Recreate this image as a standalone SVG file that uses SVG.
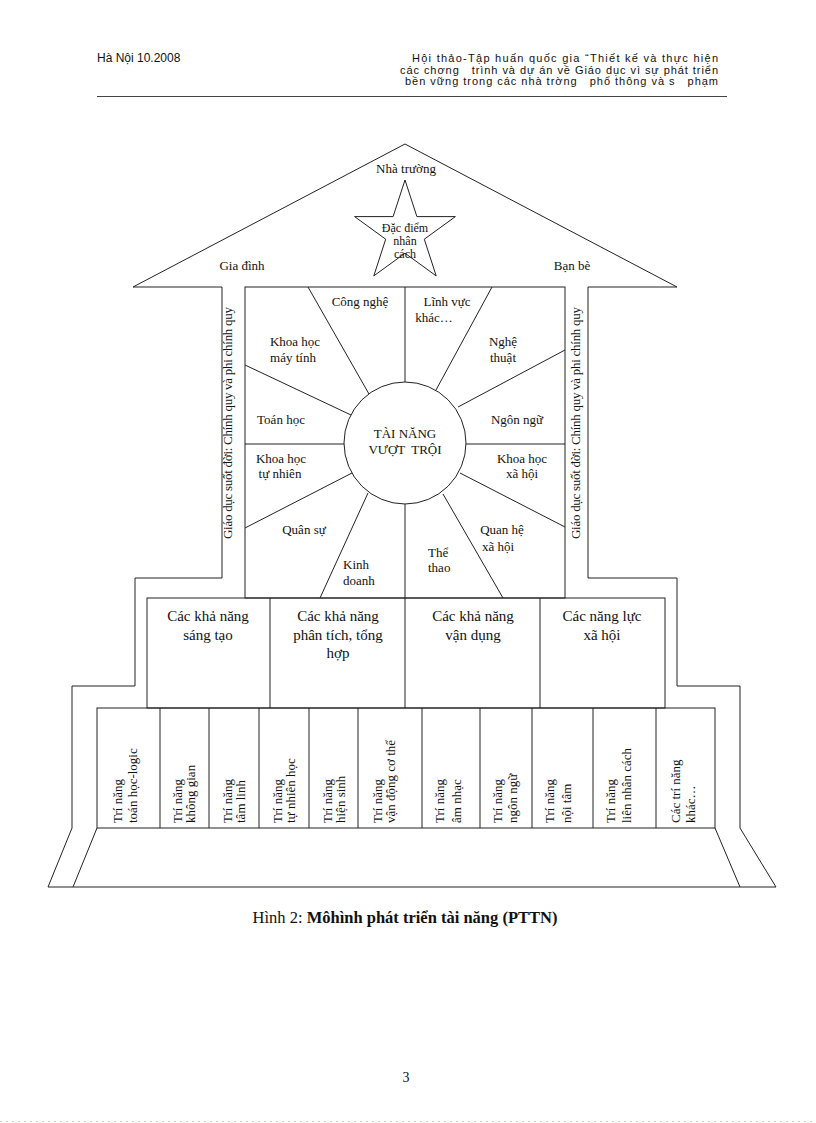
<svg xmlns="http://www.w3.org/2000/svg" width="816" height="1123" viewBox="0 0 816 1123">
<style>
.ln{fill:none;stroke:#222;stroke-width:1}
.hd{font-family:"Liberation Sans",Arial,sans-serif;font-size:11px;fill:#111;white-space:pre}
.t{font-family:"Liberation Serif","Times New Roman",serif;font-size:13px;fill:#111}
.c{text-anchor:middle}
.m{font-family:"Liberation Serif","Times New Roman",serif;font-size:15px;fill:#111;text-anchor:middle}
.s{font-family:"Liberation Serif","Times New Roman",serif;font-size:12px;fill:#111;text-anchor:middle}
.v{font-family:"Liberation Serif","Times New Roman",serif;font-size:13px;fill:#111}
</style>
<rect width="816" height="1123" fill="#fff"/>
<g id="header">
<text class="hd" x="97" y="62" style="font-size:12px">Hà Nội 10.2008</text>
<text class="hd" x="412" y="62" textLength="306" lengthAdjust="spacing">Hội thảo-Tập huấn quốc gia “Thiết kế và thực hiện</text>
<text class="hd" x="400" y="73.5" textLength="318" lengthAdjust="spacing">các chơng   trình và dự án về Giáo dục vì sự phát triển</text>
<text class="hd" x="405" y="85" textLength="313" lengthAdjust="spacing">bền vững trong các nhà trờng   phổ thông và s   phạm</text>
<line x1="97" y1="96.5" x2="727" y2="96.5" stroke="#444" stroke-width="1"/>
</g>
<g id="house">
<path class="ln" d="M133,287 L405,144 L677,287 L588,287 L588,578 L677,578 L677,686 L740,686 L740,828 L776,887 L48,887 L72,828 L72,686 L135,686 L135,578 L222,578 L222,287 Z"/>
<path class="ln" d="M97,828 L73,887 M715,828 L740,887"/>
</g>
<g id="roof-labels">
<text class="t c" x="406" y="173">Nhà trường</text>
<text class="t c" x="242" y="270">Gia  đình</text>
<text class="t c" x="572" y="270">Bạn bè</text>
</g>
<g id="star">
<polygon class="ln" points="405,180 416.9,216.6 455.4,216.6 424.3,239.2 436.2,275.9 405,253.2 373.8,275.9 385.7,239.2 354.6,216.6 393.1,216.6"/>
<text class="s" x="405" y="232">Đặc điểm</text>
<text class="s" x="405" y="245">nhân</text>
<text class="s" x="405" y="258">cách</text>
</g>
<g id="band-left">
<text class="v" transform="translate(232,539) rotate(-90)" textLength="232" lengthAdjust="spacing">Giáo dục suốt đời: Chính quy và phi chính quy</text>
</g>
<g id="band-right">
<text class="v" transform="translate(580,539) rotate(-90)" textLength="232" lengthAdjust="spacing">Giáo dục suốt đời: Chính quy và phi chính quy</text>
</g>
<g id="wheel">
<rect class="ln" x="245" y="287" width="320" height="311"/>
<circle class="ln" cx="405" cy="443" r="61"/>
<text class="t c" x="405" y="438">TÀI NĂNG</text>
<text class="t c" x="405" y="454" style="white-space:pre">VƯỢT  TRỘI</text>
</g>
<g id="connectors">
<line class="ln" x1="308" y1="287" x2="369" y2="394"/>
<line class="ln" x1="405" y1="287" x2="405" y2="382"/>
<line class="ln" x1="492" y1="287" x2="436" y2="390"/>
<line class="ln" x1="565" y1="350" x2="458" y2="407"/>
<line class="ln" x1="245" y1="365" x2="351" y2="415"/>
<line class="ln" x1="245" y1="444" x2="344" y2="444"/>
<line class="ln" x1="466" y1="444" x2="565" y2="444"/>
<line class="ln" x1="245" y1="528" x2="352" y2="473"/>
<line class="ln" x1="320" y1="598" x2="368" y2="493"/>
<line class="ln" x1="405" y1="504" x2="405" y2="598"/>
<line class="ln" x1="503" y1="598" x2="443" y2="494"/>
<line class="ln" x1="565" y1="527" x2="460" y2="473"/>
</g>
<g id="wheel-labels">
<text class="t c" x="360" y="306">Công nghệ</text>
<text class="t c" x="447" y="306">Lĩnh vực</text>
<text class="t c" x="434" y="322">khác…</text>
<text class="t c" x="295" y="346">Khoa học</text>
<text class="t c" x="293" y="362">máy tính</text>
<text class="t c" x="503" y="346">Nghệ</text>
<text class="t c" x="503" y="362">thuật</text>
<text class="t c" x="281" y="424">Toán học</text>
<text class="t c" x="517" y="424">Ngôn ngữ</text>
<text class="t c" x="281" y="463">Khoa học</text>
<text class="t c" x="280" y="478">tự nhiên</text>
<text class="t c" x="522" y="463">Khoa học</text>
<text class="t c" x="522" y="478">xã  hội</text>
<text class="t c" x="304" y="534">Quân sự</text>
<text class="t c" x="502" y="534">Quan hệ</text>
<text class="t c" x="498" y="551">xã hội</text>
<text class="t" x="343" y="569">Kinh</text>
<text class="t" x="343" y="585">doanh</text>
<text class="t" x="428" y="557">Thể</text>
<text class="t" x="428" y="572">thao</text>
</g>
<g id="middle-row">
<rect class="ln" x="147" y="598" width="518" height="110"/>
<line class="ln" x1="270" y1="598" x2="270" y2="708"/>
<line class="ln" x1="405" y1="598" x2="405" y2="708"/>
<line class="ln" x1="540" y1="598" x2="540" y2="708"/>
<text class="m" x="208" y="621">Các khả năng</text>
<text class="m" x="208" y="640">sáng tạo</text>
<text class="m" x="338" y="621">Các khả năng</text>
<text class="m" x="338" y="640">phân tích, tổng</text>
<text class="m" x="338" y="658">hợp</text>
<text class="m" x="473" y="621">Các khả năng</text>
<text class="m" x="473" y="640">vận dụng</text>
<text class="m" x="602" y="621">Các năng lực</text>
<text class="m" x="602" y="640">xã hội</text>
</g>
<g id="columns">
<rect class="ln" x="97" y="708" width="618" height="120"/>
<path class="ln" d="M160,708V828M209,708V828M259,708V828M309,708V828M358,708V828M422,708V828M480,708V828M532,708V828M593,708V828M656,708V828"/>
<text class="v" transform="translate(122,823) rotate(-90)">Trí năng</text>
<text class="v" transform="translate(137,823) rotate(-90)">toán học-logic</text>
<text class="v" transform="translate(182,823) rotate(-90)">Trí năng</text>
<text class="v" transform="translate(195,823) rotate(-90)">không gian</text>
<text class="v" transform="translate(232,823) rotate(-90)">Trí năng</text>
<text class="v" transform="translate(245,823) rotate(-90)">tâm linh</text>
<text class="v" transform="translate(282,823) rotate(-90)">Trí năng</text>
<text class="v" transform="translate(295,823) rotate(-90)">tự nhiên học</text>
<text class="v" transform="translate(332,823) rotate(-90)">Trí năng</text>
<text class="v" transform="translate(345,823) rotate(-90)">hiện sinh</text>
<text class="v" transform="translate(382,823) rotate(-90)">Trí năng</text>
<text class="v" transform="translate(395,823) rotate(-90)">vận động cơ thể</text>
<text class="v" transform="translate(444,823) rotate(-90)">Trí năng</text>
<text class="v" transform="translate(461,823) rotate(-90)">âm nhạc</text>
<text class="v" transform="translate(502,823) rotate(-90)">Trí năng</text>
<text class="v" transform="translate(517,823) rotate(-90)">ngôn ngữ</text>
<text class="v" transform="translate(554,823) rotate(-90)">Trí năng</text>
<text class="v" transform="translate(571,823) rotate(-90)">nội tâm</text>
<text class="v" transform="translate(615,823) rotate(-90)">Trí năng</text>
<text class="v" transform="translate(631,823) rotate(-90)">liên nhân cách</text>
<text class="v" transform="translate(680,823) rotate(-90)">Các trí năng</text>
<text class="v" transform="translate(695,823) rotate(-90)">khác…</text>
</g>
<g id="caption">
<text class="t c" x="405" y="923" style="font-size:16.5px">Hình 2: <tspan font-weight="bold">Môhình phát triển tài năng (PTTN)</tspan></text>
</g>
<g id="footer">
<text class="t c" x="406" y="1082" style="font-size:14px">3</text>
<line x1="0" y1="1121.5" x2="816" y2="1121.5" stroke="#b6dcb0" stroke-width="1" stroke-dasharray="2,4"/>
</g>
</svg>
